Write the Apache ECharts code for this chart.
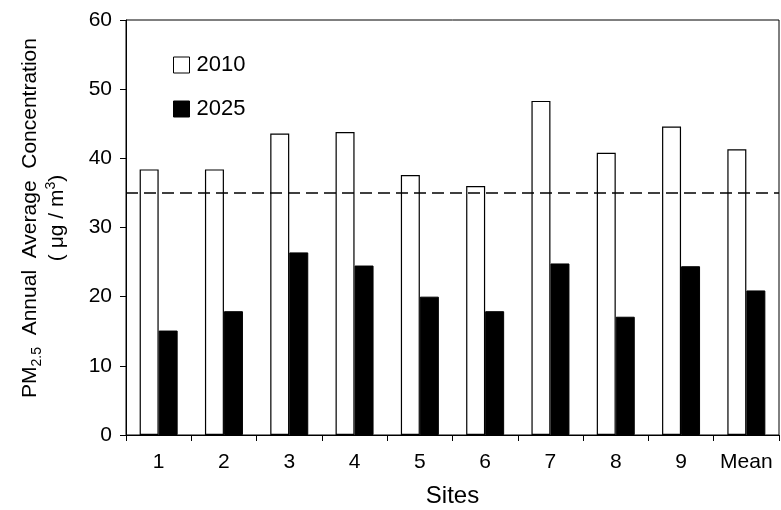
<!DOCTYPE html>
<html>
<head>
<meta charset="utf-8">
<script src="https://cdn.jsdelivr.net/npm/echarts@6/dist/echarts.min.js"></script>
<style>html,body{margin:0;padding:0;background:#fff}#c{width:781px;height:510px}</style>
</head>
<body>
<div id="c"></div>
<script>
const categories = ['1', '2', '3', '4', '5', '6', '7', '8', '9', 'Mean'];
const values2010 = [38.4, 38.4, 43.6, 43.8, 37.6, 36.0, 48.3, 40.8, 44.6, 41.3];
const values2025 = [15.1, 17.9, 26.4, 24.5, 20.0, 17.9, 24.8, 17.1, 24.4, 20.9];
const seriesNames = ['2010', '2025'];
const standardLine = 35;
const yTicks = {min: 0, max: 60, interval: 10};

const FONT = 'Liberation Sans, Arial, sans-serif';
const chart = echarts.init(document.getElementById('c'), null, {renderer: 'canvas'});
chart.setOption({
  animation: false,
  backgroundColor: '#fff',
  textStyle: {fontFamily: FONT, color: '#000'},
  grid: {left: 126, right: 2, top: 20, bottom: 75, show: true, borderColor: '#000', borderWidth: 1,
         containLabel: false, outerBoundsMode: 'none'},
  legend: {
    orient: 'vertical', left: 173, top: 54, padding: 0, itemGap: 22,
    itemWidth: 16, itemHeight: 16, icon: 'rect',
    textStyle: {fontSize: 22, color: '#000', fontFamily: FONT, padding: [0, 0, 0, 2]},
    data: [
      {name: seriesNames[0], itemStyle: {color: '#fff', borderColor: '#000', borderWidth: 1}},
      {name: seriesNames[1], itemStyle: {color: '#000', borderColor: '#000', borderWidth: 1}}
    ]
  },
  xAxis: {
    type: 'category', data: categories,
    name: 'Sites', nameLocation: 'middle', nameGap: 49,
    nameTextStyle: {fontSize: 24, color: '#000', fontFamily: FONT},
    axisLine: {lineStyle: {color: '#000', width: 1}},
    axisTick: {show: true, length: 6, lineStyle: {color: '#000'}},
    axisLabel: {fontSize: 21, color: '#000', margin: 17, interval: 0, fontFamily: FONT}
  },
  yAxis: {
    type: 'value', min: yTicks.min, max: yTicks.max, interval: yTicks.interval,
    splitLine: {show: false},
    axisLine: {show: true, lineStyle: {color: '#000', width: 1}},
    axisTick: {show: true, length: 6, lineStyle: {color: '#000'}},
    axisLabel: {fontSize: 21, color: '#000', margin: 14, fontFamily: FONT},
    name: '{a|PM}{s|2.5}{a|  Annual  Average  Concentration}\n{a|( μg / m}{p|3}{a|)}',
    nameLocation: 'middle', nameRotate: 90, nameGap: 55,
    nameTextStyle: {
      color: '#000', fontFamily: FONT, fontSize: 21, align: 'center',
      padding: [0, 0, 0, 19],
      rich: {
        a: {fontSize: 21, lineHeight: 27, verticalAlign: 'middle', color: '#000', fontFamily: FONT},
        s: {fontSize: 14, lineHeight: 14, verticalAlign: 'bottom', color: '#000', fontFamily: FONT},
        p: {fontSize: 14, lineHeight: 14, verticalAlign: 'top', color: '#000', fontFamily: FONT}
      }
    }
  },
  series: [
    {
      name: seriesNames[0], type: 'bar', data: values2010, barWidth: 19, barGap: '0%',
      itemStyle: {color: '#fff', borderColor: '#000', borderWidth: 1.2},
      markLine: {
        silent: true, symbol: ['none', 'none'], label: {show: false},
        lineStyle: {color: '#000', type: [12, 6], width: 1.5},
        data: [{yAxis: standardLine}]
      }
    },
    {
      name: seriesNames[1], type: 'bar', data: values2025, barWidth: 19,
      itemStyle: {color: '#000', borderColor: '#000', borderWidth: 1}
    }
  ]
});
</script>
</body>
</html>
